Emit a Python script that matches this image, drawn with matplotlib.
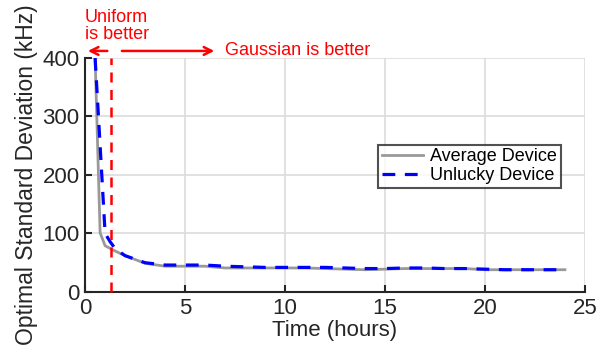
import matplotlib
matplotlib.use("Agg")
import matplotlib.pyplot as plt

plt.rcParams['font.family'] = ['Liberation Sans', 'DejaVu Sans']

# Data
avg_t = [0.25, 0.75, 1.0, 1.5, 2.0, 3.0, 4.0, 5.0, 6.0, 7.0, 8.0, 9.0, 10.0, 11.0, 12.0, 13.0, 14.0, 15.0, 16.0, 17.0, 18.0, 19.0, 20.0, 21.0, 22.0, 23.0, 24.0]
avg_y = [700, 101, 79, 70, 62, 49, 44, 44, 44, 41, 41, 41, 41, 41, 40, 39, 38, 39, 40, 40, 40, 40, 38, 38, 38, 38, 38]
unl_t = [0.5, 1.0, 1.25, 1.5, 2.0, 3.0, 4.0, 5.0, 6.0, 7.0, 8.0, 9.0, 10.0, 11.0, 12.0, 13.0, 14.0, 15.0, 16.0, 17.0, 18.0, 19.0, 20.0, 21.0, 22.0, 23.0, 24.0]
unl_y = [400, 100, 86, 74, 62, 50, 46, 46, 46, 44, 43, 42, 42, 42, 42, 41, 40, 40, 41, 41, 40, 40, 39, 38, 38, 38, 38]
threshold_t = 1.3

xticks = [0, 5, 10, 15, 20, 25]
yticks = [0, 100, 200, 300, 400]

fig = plt.figure(figsize=(6.08, 3.6), dpi=100)
ax = fig.add_axes([0.14, 0.189, 0.822, 0.650])

ax.plot(avg_t, avg_y, color='#999999', lw=2.0, label='Average Device', zorder=3)
ax.plot(unl_t, unl_y, color='#0000ff', lw=2.3, ls=(0, (4, 3)), label='Unlucky Device', zorder=4)
ax.plot([threshold_t, threshold_t], [0, 400], color='#ff0000', lw=1.8, ls=(0, (4, 3)), zorder=5, clip_on=False)

ax.set_xlim(0, 25)
ax.set_ylim(0, 400)
ax.set_xticks(xticks)
ax.set_yticks(yticks)
ax.grid(True, color='#dcdcdc', lw=1.2)
ax.set_axisbelow(True)
for s in ['top', 'right']:
    ax.spines[s].set_visible(False)
for s in ['left', 'bottom']:
    ax.spines[s].set_color('#262626')
    ax.spines[s].set_linewidth(1.5)
ax.tick_params(direction='in', length=5, width=1.5, colors='#262626', labelsize=16, pad=4)
ax.set_xlabel('Time (hours)', fontsize=16, color='#262626', labelpad=1)
ax.set_ylabel('Optimal Standard Deviation (kHz)', fontsize=16.5, color='#262626', labelpad=3)

leg = ax.legend(loc='upper left', bbox_to_anchor=(0.586, 0.63), fontsize=13, frameon=True,
                fancybox=False, edgecolor='#262626', handlelength=2.3, borderpad=0.2,
                labelspacing=0.1, handletextpad=0.4, borderaxespad=0)
leg.get_frame().set_linewidth(1.5)

# Annotations
ax.annotate('', xy=(0.0, 412), xytext=(1.25, 412), xycoords='data', textcoords='data',
            arrowprops=dict(arrowstyle='->', color='#ff0000', lw=1.8, mutation_scale=14), annotation_clip=False)
ax.annotate('', xy=(6.6, 412), xytext=(1.7, 412), xycoords='data', textcoords='data',
            arrowprops=dict(arrowstyle='->', color='#ff0000', lw=1.8, mutation_scale=14), annotation_clip=False)
ax.text(0.0, 425, 'Uniform\nis better', color='#ff0000', fontsize=13, ha='left', va='bottom',
        linespacing=1.05, clip_on=False)
ax.text(7.0, 412, 'Gaussian is better', color='#ff0000', fontsize=13, ha='left', va='center', clip_on=False)

fig.savefig('out.png', dpi=100)
